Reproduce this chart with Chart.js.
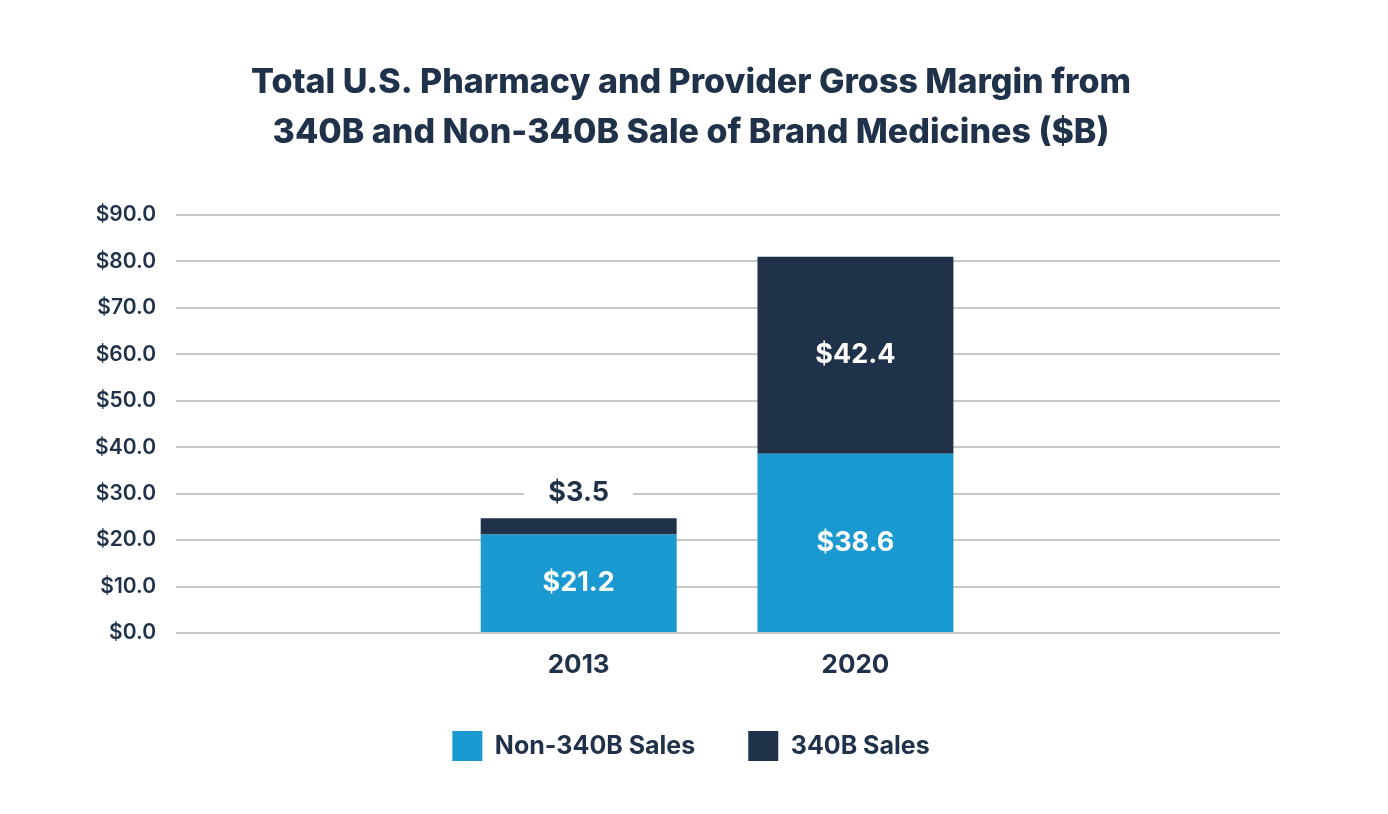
<!DOCTYPE html>
<html><head><meta charset="utf-8">
<script src="https://cdn.jsdelivr.net/npm/chart.js@4"></script>
<style>html,body{margin:0;padding:0;background:#fff}#wrap{width:1388px;height:814px}</style>
</head><body><div id="wrap"><canvas id="c" width="1388" height="814"></canvas></div>
<script>
const years = ['2013', '2020'];
const non340BSales = [21.2, 38.6];
const sales340B = [3.5, 42.4];
const seriesNames = ['Non-340B Sales', '340B Sales'];
const titleLines = ['Total U.S. Pharmacy and Provider Gross Margin from', '340B and Non-340B Sale of Brand Medicines ($B)'];
const yMin = 0, yMax = 90, yStep = 10;

const NAVY = '#1f3249';
const BLUE = '#1a9ad1';
const FONT = 'Inter, "Open Sans", sans-serif';

const toPoints = arr => arr.map((v, i) => ({ x: i + 1, y: v }));

const labelPlugin = {
  id: 'valueLabels',
  afterDatasetsDraw(chart) {
    const ctx = chart.ctx;
    ctx.save();
    ctx.font = '700 27px ' + FONT;
    ctx.textAlign = 'center';
    ctx.textBaseline = 'middle';
    chart.data.datasets.forEach((ds, di) => {
      const meta = chart.getDatasetMeta(di);
      meta.data.forEach((el, i) => {
        const v = ds.data[i].y;
        const txt = '$' + v.toFixed(1);
        const h = Math.abs(el.base - el.y);
        if (h < 40) {
          const ty = el.y - 25;
          const w = ctx.measureText(txt).width;
          ctx.fillStyle = '#ffffff';
          ctx.fillRect(el.x - w / 2 - 24, ty - 14, w + 48, 28);
          ctx.fillStyle = NAVY;
          ctx.fillText(txt, el.x, ty);
        } else {
          ctx.fillStyle = '#ffffff';
          ctx.fillText(txt, el.x, (el.y + el.base) / 2);
        }
      });
    });
    ctx.restore();
  }
};

new Chart(document.getElementById('c'), {
  type: 'bar',
  data: {
    datasets: [
      { label: seriesNames[0], data: toPoints(non340BSales), backgroundColor: BLUE, borderWidth: 0, yAxisID: 'y' },
      { label: seriesNames[1], data: toPoints(sales340B), backgroundColor: NAVY, borderWidth: 0, yAxisID: 'y' }
    ]
  },
  options: {
    responsive: false,
    animation: false,
    devicePixelRatio: 1,
    categoryPercentage: 1,
    barPercentage: 0.708,
    layout: { padding: { left: 0, right: 6, bottom: 43, top: 0 } },
    plugins: {
      title: {
        display: true,
        text: titleLines,
        color: NAVY,
        font: { family: FONT, size: 34, weight: '800', lineHeight: 1.47 },
        padding: { top: 58, bottom: 57 }
      },
      legend: {
        position: 'bottom',
        labels: {
          boxWidth: 30, boxHeight: 30, padding: 53,
          color: NAVY,
          font: { family: FONT, size: 25, weight: '700' }
        }
      },
      tooltip: { enabled: false }
    },
    scales: {
      x: {
        type: 'linear',
        stacked: true,
        min: -0.455,
        max: 3.534,
        offset: false,
        grid: { display: false, drawTicks: true, tickLength: 19 },
        border: { display: false },
        afterBuildTicks: s => { s.ticks = years.map((y, i) => ({ value: i + 1 })); },
        ticks: {
          color: NAVY,
          padding: 0,
          font: { family: FONT, size: 26, weight: '700', lineHeight: 1.0 },
          callback: v => years[v - 1] || ''
        }
      },
      y: {
        stacked: true,
        min: yMin, max: yMax,
        afterFit: s => { s.width = 176; },
        ticks: {
          stepSize: yStep,
          color: NAVY,
          padding: 20,
          font: { family: FONT, size: 21, weight: '600' },
          callback: v => '$' + Number(v).toFixed(1)
        },
        grid: { color: '#c8c8c8', lineWidth: 2, drawTicks: false },
        border: { display: false }
      },
      yRight: {
        position: 'right',
        min: yMin, max: yMax,
        afterFit: s => { s.width = 102; },
        ticks: { display: false },
        grid: { display: false },
        border: { display: false }
      }
    }
  },
  plugins: [labelPlugin]
});
</script>
</body></html>
